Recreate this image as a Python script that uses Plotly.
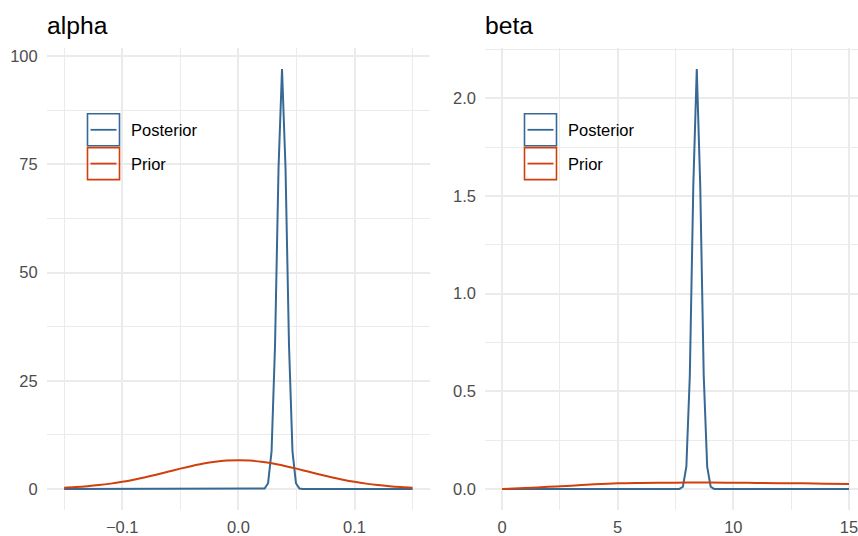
import plotly.graph_objects as go

# ---------------- data ----------------
alpha_post_x = [-0.15, 0.0196, 0.0226, 0.0256, 0.0286, 0.0316, 0.0346, 0.0376,
                0.0406, 0.0436, 0.0466, 0.0496, 0.0526, 0.0556, 0.15]
alpha_post_y = [0, 0.006, 0.12, 1.34, 8.7, 33.3, 74.2, 97.0,
                74.2, 33.3, 8.7, 1.34, 0.12, 0.006, 0]

alpha_prior_x = [-0.15, -0.14, -0.13, -0.12, -0.11, -0.10, -0.09, -0.08, -0.07, -0.06,
                 -0.05, -0.04, -0.03, -0.02, -0.01, 0.0, 0.01, 0.02, 0.03, 0.04, 0.05,
                 0.06, 0.07, 0.08, 0.09, 0.10, 0.11, 0.12, 0.13, 0.14, 0.15]
alpha_prior_y = [0.29, 0.44, 0.64, 0.90, 1.24, 1.66, 2.16, 2.73, 3.37, 4.03,
                 4.70, 5.32, 5.87, 6.29, 6.56, 6.65, 6.56, 6.29, 5.87, 5.32, 4.70,
                 4.03, 3.37, 2.73, 2.16, 1.66, 1.24, 0.90, 0.64, 0.44, 0.29]

beta_post_x = [0, 7.67, 7.82, 7.97, 8.12, 8.27, 8.42, 8.57, 8.72, 8.87, 9.02, 9.17, 15]
beta_post_y = [0, 0.0006, 0.0116, 0.114, 0.582, 1.551, 2.15, 1.551, 0.582, 0.114,
               0.0116, 0.0006, 0]

beta_prior_x = [0, 1, 2, 3, 4, 5, 6, 7, 8, 9, 10, 11, 12, 13, 14, 15]
beta_prior_y = [0, 0.005, 0.011, 0.017, 0.024, 0.029, 0.031, 0.032, 0.033, 0.033,
                0.032, 0.031, 0.030, 0.029, 0.027, 0.026]

panel_titles = ["alpha", "beta"]
series_names = ["Posterior", "Prior"]

# ---------------- styling ----------------
W, H = 858, 536
MT, MB = 48, 26
PH = H - MT - MB
BLUE = "#386894"
ORANGE = "#D0400C"
GRID = "#EBEBEB"
TICK = "#4D4D4D"
FONT = "Liberation Sans, Arial, sans-serif"
FS = 16.5

def px(xp):
    return xp / W

def py(yp):
    return (H - MB - yp) / PH

fig = go.Figure()
fig.add_trace(go.Scatter(x=alpha_post_x, y=alpha_post_y, mode="lines", name=series_names[0],
                         line=dict(color=BLUE, width=2), xaxis="x", yaxis="y", showlegend=False))
fig.add_trace(go.Scatter(x=alpha_prior_x, y=alpha_prior_y, mode="lines", name=series_names[1],
                         line=dict(color=ORANGE, width=2, shape="spline"), xaxis="x", yaxis="y",
                         showlegend=False))
fig.add_trace(go.Scatter(x=beta_post_x, y=beta_post_y, mode="lines", name=series_names[0],
                         line=dict(color=BLUE, width=2), xaxis="x2", yaxis="y2", showlegend=False))
fig.add_trace(go.Scatter(x=beta_prior_x, y=beta_prior_y, mode="lines", name=series_names[1],
                         line=dict(color=ORANGE, width=2, shape="spline"), xaxis="x2", yaxis="y2",
                         showlegend=False))

common = dict(showgrid=True, gridcolor=GRID, gridwidth=1.9, zeroline=False, showline=False,
              ticks="", tickfont=dict(family=FONT, size=FS, color=TICK), automargin=False,
              ticklabeloverflow="allow")

fig.update_layout(
    width=W, height=H,
    margin=dict(l=0, r=0, t=MT, b=MB),
    paper_bgcolor="white", plot_bgcolor="white",
    xaxis=dict(domain=[px(46.7), px(430)], range=[-0.165, 0.165], tick0=0, dtick=0.1,
               tickformat=".1f", anchor="y", ticklabelstandoff=5,
               minor=dict(dtick=0.05, tick0=0, showgrid=True, gridcolor=GRID, gridwidth=1), **common),
    yaxis=dict(domain=[0, 1], range=[-4.85, 101.85], tick0=0, dtick=25, anchor="x",
               ticklabelstandoff=8,
               minor=dict(dtick=12.5, tick0=0, showgrid=True, gridcolor=GRID, gridwidth=1), **common),
    xaxis2=dict(domain=[px(485), 1], range=[-0.735, 15.39], tick0=0, dtick=5, anchor="y2",
                ticklabelstandoff=5,
                minor=dict(dtick=2.5, tick0=0, showgrid=True, gridcolor=GRID, gridwidth=1), **common),
    yaxis2=dict(domain=[0, 1], range=[-0.1075, 2.2575], tick0=0, dtick=0.5, tickformat=".1f",
                anchor="x2", ticklabelstandoff=8,
                minor=dict(dtick=0.25, tick0=0, showgrid=True, gridcolor=GRID, gridwidth=1), **common),
)

annotations = []
shapes = []
for title, left in zip(panel_titles, [46.7, 485]):
    annotations.append(dict(text=title, x=px(left - 2), y=py(26), xref="paper", yref="paper",
                            xanchor="left", yanchor="middle", showarrow=False,
                            font=dict(family=FONT, size=24.7, color="black")))

for key_left in [87.5, 524.5]:
    for name, color, yc in zip(series_names, [BLUE, ORANGE], [129.8, 163.6]):
        shapes.append(dict(type="rect", xref="paper", yref="paper",
                           x0=px(key_left), x1=px(key_left + 32),
                           y0=py(yc - 16), y1=py(yc + 16),
                           line=dict(color=color, width=1.6), fillcolor="rgba(0,0,0,0)"))
        shapes.append(dict(type="line", xref="paper", yref="paper",
                           x0=px(key_left + 3), x1=px(key_left + 29),
                           y0=py(yc), y1=py(yc), line=dict(color=color, width=1.8)))
        annotations.append(dict(text=name, x=px(key_left + 41), y=py(yc), xref="paper",
                                yref="paper", xanchor="left", yanchor="middle", showarrow=False,
                                font=dict(family=FONT, size=FS, color="black")))

fig.update_layout(annotations=annotations, shapes=shapes)
fig.write_html("out.html")
